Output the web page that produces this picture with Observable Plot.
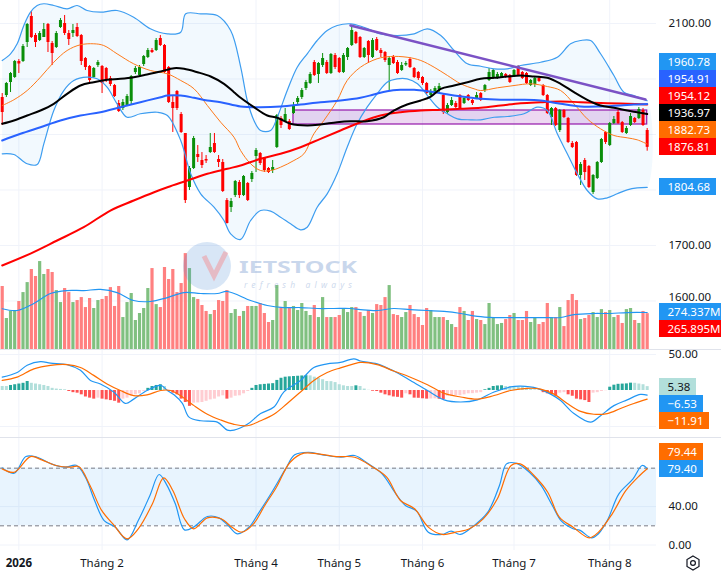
<!DOCTYPE html>
<html><head><meta charset="utf-8">
<script src="https://cdn.jsdelivr.net/npm/d3@7"></script>
<script src="https://cdn.jsdelivr.net/npm/@observablehq/plot@0.6"></script>
<style>
html,body{margin:0;padding:0;background:#fff;}
#wrap{position:relative;width:721px;height:576px;overflow:hidden;font-family:"Noto Sans",sans-serif;background:#fff;}
#wrap svg{position:absolute;left:0;}
.lbl{position:absolute;left:659px;height:17px;line-height:17px;padding:0 6px 0 8.5px;font-size:11.5px;color:#fff;white-space:nowrap;font-family:"Noto Sans",sans-serif;}
.sep{position:absolute;left:0;width:721px;height:1px;background:#e0e3eb;}
</style></head><body><div id="wrap"></div><script>
// ---------- DATA ----------
const open = [1966.6,1970.2,1993.7,2002.7,2031.5,2031.5,2065.7,2112.6,2078.3,2069.3,
2074.7,2098.2,2063.9,2056.7,2092.8,2100.0,2081.9,2081.9,2092.8,2078.3,
2036.9,2022.5,2002.7,2024.3,2022.5,2018.9,2000.9,1988.2,1955.8,1946.8,
1952.2,1959.4,2011.7,2006.3,2026.1,2038.7,2051.3,2051.3,2072.9,2060.3,
2020.7,1957.6,1977.4,1936.0,1901.8,1804.5,1838.7,1863.9,1853.1,1854.9,
1867.5,1883.8,1854.9,1849.5,1781.0,1768.4,1790.0,1813.5,1790.0,1811.7,
1818.9,1860.3,1865.7,1856.7,1838.7,1835.1,1876.5,1928.8,1923.4,1923.4,
1937.8,1957.6,1966.6,1982.8,1991.9,2029.7,2008.1,2024.3,2029.7,2009.9,
2042.3,2036.9,2011.7,2038.7,2060.3,2083.7,2074.7,2038.7,2067.5,2038.7,
2071.1,2051.3,2047.7,2024.3,2038.7,2029.7,2015.3,2025.2,2035.1,2018.9,
2011.7,2002.7,1991.9,1970.2,1975.6,1981.0,1970.2,1939.6,1952.2,1955.8,
1970.2,1955.8,1970.2,1961.2,1964.8,1973.8,1979.2,1997.3,2000.9,2000.9,
2002.7,2008.1,2006.3,2004.5,2022.5,2011.7,2009.9,1988.2,1990.1,2000.9,
1988.2,1970.2,1930.6,1946.8,1907.2,1943.2,1928.8,1883.8,1885.6,1826.1,
1853.1,1842.3,1795.5,1820.7,1849.5,1903.6,1880.1,1919.8,1939.6,1921.6,
1901.8,1916.2,1928.8,1928.8,1943.2,1907.2];
const close = [1939.6,1991.9,2009.9,2031.5,2027.0,2058.5,2098.2,2074.7,2065.7,2081.9,
2089.1,2065.7,2045.9,2081.9,2105.4,2081.9,2071.1,2087.3,2076.5,2031.5,
2020.7,1997.3,2018.9,2029.7,1991.9,1997.3,1990.1,1968.4,1941.4,1957.6,
1968.4,2004.5,2018.9,2020.7,2040.5,2051.3,2047.7,2069.3,2060.3,2011.7,
1957.6,1946.8,1946.8,1903.6,1781.0,1838.7,1892.8,1858.5,1844.1,1852.2,
1876.5,1867.5,1849.5,1797.3,1739.6,1779.2,1815.3,1790.0,1824.3,1781.0,
1829.7,1871.1,1847.7,1835.1,1831.5,1840.5,1934.2,1916.2,1936.0,1909.0,
1950.4,1964.8,1979.2,1993.7,2008.1,2006.3,2027.9,2036.9,2009.9,2044.1,
2020.7,2011.7,2042.3,2054.9,2087.3,2063.9,2038.7,2054.9,2042.3,2069.3,
2051.3,2045.9,2033.3,2036.9,2027.9,2009.9,2024.3,2027.9,2020.7,2002.7,
2000.9,1991.9,1973.8,1977.4,1982.8,1986.4,1939.6,1952.2,1961.2,1948.6,
1946.8,1964.8,1961.2,1955.8,1970.2,1961.2,1988.2,2011.7,2015.3,2008.1,
2009.9,2002.7,1993.7,2015.3,2006.3,2000.9,1991.9,1997.3,2000.9,1995.5,
1970.2,1937.8,1946.8,1916.2,1943.2,1930.6,1885.6,1876.5,1826.1,1845.9,
1831.5,1804.5,1826.1,1849.5,1891.0,1885.6,1919.8,1927.0,1919.8,1903.6,
1910.8,1932.4,1921.6,1945.0,1916.2,1876.81];
const high = [1973.8,1993.7,2011.7,2033.3,2035.1,2062.1,2100.0,2121.6,2081.9,2085.5,
2100.0,2100.0,2067.5,2085.5,2109.0,2114.4,2087.3,2098.2,2100.0,2080.1,
2038.7,2024.3,2020.7,2033.3,2024.3,2020.7,2004.5,1990.1,1961.2,1963.0,
1972.0,2006.3,2022.5,2024.3,2042.3,2054.9,2054.9,2072.9,2078.3,2062.1,
2022.5,1970.2,1979.2,1939.6,1901.8,1842.3,1896.4,1880.1,1867.5,1862.1,
1901.8,1901.8,1862.1,1854.9,1784.6,1784.6,1817.1,1817.1,1826.1,1813.5,
1833.3,1874.7,1867.5,1858.5,1840.5,1853.1,1936.0,1932.4,1946.8,1927.0,
1957.6,1968.4,1982.8,1997.3,2011.7,2033.3,2029.7,2045.9,2033.3,2045.9,
2045.9,2038.7,2045.9,2056.7,2092.8,2085.5,2076.5,2056.7,2069.3,2072.9,
2074.7,2054.9,2049.5,2040.5,2042.3,2033.3,2029.7,2031.5,2038.7,2020.7,
2013.5,2004.5,1993.7,1981.0,1986.4,1991.9,1972.0,1955.8,1966.6,1959.4,
1972.0,1968.4,1972.0,1963.0,1975.6,1975.6,1990.1,2018.9,2017.1,2011.7,
2011.7,2009.9,2008.1,2017.1,2024.3,2013.5,2011.7,1999.1,2002.7,2004.5,
1990.1,1972.0,1948.6,1948.6,1945.0,1945.0,1930.6,1887.4,1887.4,1849.5,
1856.7,1844.1,1827.9,1851.3,1892.8,1905.4,1921.6,1932.4,1943.2,1923.4,
1914.4,1937.8,1930.6,1948.6,1946.8,1910.8];
const low = [1916.2,1966.6,1975.6,2000.9,2009.9,2029.7,2056.7,2072.9,2056.7,2067.5,
2074.7,2047.7,2024.3,2054.9,2091.0,2078.3,2060.3,2074.7,2074.7,2024.3,
2015.3,1991.9,2000.9,2020.7,1973.8,1993.7,1986.4,1966.6,1939.6,1943.2,
1950.4,1954.0,2008.1,2004.5,2022.5,2036.9,2045.9,2049.5,2058.5,2009.9,
1955.8,1903.6,1943.2,1901.8,1775.6,1799.1,1836.9,1849.5,1838.7,1847.7,
1865.7,1865.7,1840.5,1795.5,1738.7,1759.4,1786.4,1784.6,1788.2,1779.2,
1813.5,1831.5,1844.1,1831.5,1829.7,1829.7,1874.7,1910.8,1921.6,1907.2,
1936.0,1952.2,1963.0,1979.2,1990.1,2004.5,1991.9,2020.7,2008.1,2008.1,
2017.1,2009.9,2009.9,2033.3,2058.5,2062.1,2036.9,2036.9,2027.9,2036.9,
2049.5,2038.7,2029.7,1979.2,2026.1,2008.1,2013.5,2022.5,2018.9,2000.9,
1997.3,1988.2,1972.0,1968.4,1973.8,1975.6,1936.0,1936.0,1950.4,1946.8,
1945.0,1954.0,1959.4,1952.2,1963.0,1959.4,1975.6,1995.5,1999.1,1999.1,
2000.9,2000.9,1991.9,2002.7,2004.5,1999.1,1990.1,1986.4,1984.6,1993.7,
1968.4,1936.0,1916.2,1914.4,1903.6,1928.8,1883.8,1874.7,1824.3,1808.1,
1817.1,1802.7,1791.9,1818.9,1847.7,1882.0,1878.3,1918.0,1918.0,1901.8,
1900.0,1914.4,1919.8,1927.0,1914.4,1869.9];
// volume, millions
const volume = [467,230,282,289,356,422,496,593,541,652,556,593,571,437,348,452,422,348,363,385,
311,378,304,363,371,393,459,319,467,237,348,415,215,267,304,452,600,333,311,608,
519,593,422,489,711,600,385,371,326,282,259,289,363,356,437,267,296,245,282,319,
319,319,341,267,200,215,474,311,356,311,319,289,341,282,252,326,237,385,237,237,
237,252,304,274,311,311,274,
245,289,267,333,326,385,474,259,252,237,274,326,259,237,178,304,289,237,237,237,
215,185,163,311,282,215,282,222,215,185,341,237,185,193,222,252,267,215,215,282,
200,237,185,200,341,237,237,311,170,363,408,363,222,230,252,274,237,296,274,289,
237,252,193,296,304,215,193,282,265.895];
const macdHist = [5.6,5.6,7,8,9,10,12.5,10,9,8,7,5.6,3,2,1.5,1,-1.4,-3,-3.7,-6,
-9,-10.6,-12,-10.6,-12,-13,-14,-15,-17.6,-12,-10.6,-8,-6,-4.6,-1.4,3,5.6,7,8,5.6,
-1.4,-3.7,-6,-12,-16.7,-22,-17.6,-17.2,-16.7,-15,-13,-12,-9,-7.4,-12,-10.6,-8,-7.4,-4.6,-1.4,
3,7,8,8.5,9,9.5,14,17,18.5,19,19.4,19.8,20.2,20.6,20.3,18.5,17,15,12.5,12.3,
11,8,6.5,5.6,5.5,6.5,5.6,
2,0.3,-1,-1.4,-3.7,-6,-7.4,-9,-9.5,-10.6,-4.6,-6,-10.6,-10.8,-11.5,-12,-11.8,-11.6,-12.2,-12.5,
-8,-7.9,-7.4,-7.2,-6,-4.6,-4.4,-3.7,-3,1,3,5.6,6.3,6.6,5.6,5.5,5.4,4.6,4.5,3,
2,1,0.8,-3,-4.6,-6,-8,-3.7,-3,-6,-8,-12,-13,-14,-16.7,-3.7,-3,-1.4,-0.3,4.6,
7.4,8.6,8.9,9.2,10.2,10,9,8,5.38];
// indicator lines read at [bar index, value]
const bbUpper = [[0,2033.3],[2.0,2045.4],[3.6,2063.4],[5.2,2096.4],[6.8,2120.3],[8.4,2132.4],[10.0,2135.5],[12.4,2132.4],[15.6,2126.4],[18.0,2132.4],[20.4,2123.4],[23.6,2120.3],[27.6,2123.4],[31.6,2111.3],[35.6,2090.4],[39.7,2081.4],[42.9,2084.3],[44.1,2117.4],[47.7,2117.4],[51.7,2114.4],[54.9,2087.3],[57.3,2022.0],[58.9,1961.2],[60.5,1925.2],[62.1,1907.2],[64.5,1907.2],[66.1,1931.1],[68.5,1979.2],[70.9,2021.2],[73.3,2045.4],[75.7,2069.3],[78.1,2087.3],[80.5,2096.4],[83.7,2099.4],[86.9,2093.3],[90.9,2081.4],[94.9,2078.3],[99.0,2081.4],[102.2,2090.4],[105.4,2078.3],[108.6,2051.3],[111.8,2027.3],[115.0,2023.0],[118.2,2018.3],[121.4,2018.3],[124.6,2024.3],[129.4,2030.2],[133.4,2039.2],[136.6,2063.4],[139.0,2069.3],[141.4,2069.3],[143.8,2045.4],[147.0,2006.3],[149.4,1976.2],[151.8,1970.2],[155,1960.78]];
const bbLower = [[0,1865.2],[2.8,1863.9],[6.0,1847.2],[8.4,1845.9],[10.0,1883.2],[12.4,1943.2],[14.8,1979.2],[17.2,1997.3],[20.4,2003.2],[22.8,2000.3],[25.2,1985.2],[27.6,1955.3],[30.0,1931.1],[33.2,1937.3],[37.3,1940.1],[39.7,1934.2],[42.9,1889.1],[45.3,1829.2],[47.7,1793.1],[50.9,1769.0],[53.3,1745.0],[54.9,1721.0],[57.3,1711.0],[59.7,1745.0],[62.1,1763.0],[64.5,1761.8],[66.9,1751.0],[69.3,1739.1],[71.7,1728.2],[73.3,1732.9],[75.7,1769.0],[78.1,1793.1],[80.5,1829.2],[82.9,1877.1],[85.3,1919.2],[87.7,1949.2],[90.1,1973.3],[92.5,1994.2],[94.9,2000.3],[97.3,2000.3],[99.8,1991.3],[102.2,1970.2],[104.6,1949.2],[107.0,1937.3],[109.4,1928.2],[112.6,1926.4],[115.0,1926.4],[118.2,1931.1],[121.4,1932.4],[125.4,1937.3],[128.6,1949.2],[131.0,1943.2],[133.4,1901.2],[135.8,1865.2],[138.2,1829.2],[140.6,1799.1],[143.0,1784.1],[145.4,1785.9],[147.8,1793.1],[150.2,1800.3],[152.6,1803.9],[155,1804.68]];
const bbMid = [[0,1952.2],[2.8,1962.5],[6.0,1979.2],[9.2,2003.2],[12.4,2030.2],[15.6,2051.3],[18.8,2061.6],[22.0,2063.4],[24.4,2060.3],[27.6,2045.4],[31.6,2027.3],[35.6,2015.3],[39.7,2009.3],[42.9,1997.3],[46.1,1982.3],[49.3,1952.2],[52.5,1922.1],[55.7,1895.1],[57.3,1871.0],[59.7,1847.2],[62.1,1835.1],[64.5,1835.1],[66.9,1841.1],[70.1,1853.1],[72.5,1865.2],[74.9,1901.2],[77.3,1925.2],[80.5,1961.2],[82.9,1997.3],[86.1,2021.2],[90.1,2036.4],[93.3,2040.5],[97.3,2039.2],[100.6,2033.3],[103.8,2021.2],[107.0,2006.3],[110.2,1991.3],[113.4,1982.3],[115.0,1979.2],[119.0,1984.1],[123.0,1988.2],[127.0,1991.3],[131.0,1986.4],[134.2,1979.2],[137.4,1955.3],[140.6,1928.2],[143.8,1910.2],[147.0,1898.2],[150.2,1894.0],[152.6,1890.4],[155,1882.73]];
const maBlack = [[0,1919.2],[2.8,1925.2],[6.0,1934.2],[9.2,1943.2],[12.4,1955.3],[15.6,1973.3],[18.8,1988.2],[22.0,1994.2],[25.2,1998.5],[28.4,2000.3],[31.6,2003.2],[34.8,2008.1],[38.1,2013.5],[41.3,2019.4],[43.7,2018.3],[46.9,2012.2],[50.1,2004.5],[53.3,1991.3],[55.7,1976.2],[57.3,1966.1],[60.5,1949.2],[63.7,1934.2],[66.1,1930.1],[69.3,1919.2],[73.3,1916.2],[76.5,1918.0],[80.5,1922.1],[83.7,1923.9],[87.7,1923.9],[91.7,1931.1],[94.1,1943.2],[97.3,1954.0],[100.6,1961.2],[103.0,1968.4],[105.4,1982.3],[108.6,1988.2],[111.8,1994.2],[115.0,2000.3],[118.2,2002.1],[121.4,2004.5],[124.6,2006.3],[127.8,2004.5],[131.0,2002.1],[134.2,1991.3],[137.4,1976.2],[140.6,1962.5],[143.8,1952.2],[147.0,1948.1],[150.2,1943.2],[152.6,1940.1],[155,1936.97]];
const maBlue = [[0,1889.1],[4.4,1901.2],[9.2,1913.1],[14.0,1925.2],[18.8,1934.2],[23.6,1940.1],[28.4,1949.2],[33.2,1958.2],[38.1,1967.2],[39.7,1970.2],[42.9,1970.2],[46.1,1966.1],[49.3,1961.2],[52.5,1958.2],[57.3,1950.4],[62.1,1949.2],[66.9,1950.4],[71.7,1954.0],[76.5,1958.2],[81.3,1961.2],[86.1,1966.1],[89.3,1972.0],[92.5,1978.0],[95.7,1980.5],[99.0,1980.5],[102.2,1978.0],[105.4,1974.4],[108.6,1970.2],[111.8,1967.2],[115.0,1964.3],[119.8,1962.5],[124.6,1962.5],[129.4,1961.2],[134.2,1955.3],[139.0,1950.4],[143.8,1950.4],[148.6,1952.2],[151.8,1954.0],[155,1954.91]];
const maRed = [[0,1664.0],[6.8,1685.5],[13.2,1709.0],[19.6,1732.9],[26.0,1763.0],[31.6,1781.0],[36.5,1796.0],[39.7,1805.0],[44.5,1817.1],[49.3,1829.2],[54.1,1838.2],[57.3,1844.1],[62.1,1856.2],[66.9,1865.2],[71.7,1877.1],[76.5,1892.2],[81.3,1907.2],[86.1,1922.1],[90.9,1934.2],[95.7,1940.1],[100.6,1943.2],[105.4,1944.5],[110.2,1946.3],[115.0,1948.1],[119.8,1952.2],[124.6,1956.4],[129.4,1958.2],[134.2,1959.5],[139.0,1958.2],[145.4,1956.4],[150.2,1955.3],[155,1954.12]];
const trendLine = [[83.7,2096.4],[154.6,1963.0]];
const zone = {from: 70, to: 155, top: 1943.2, bottom: 1918.0};
const volMA = [[0,302],[3.6,289],[7.6,341],[11.6,415],[15.6,437],[19.6,437],[23.6,445],[27.6,422],[31.6,363],[35.6,356],[39.7,385],[43.7,422],[47.7,415],[51.7,415],[54.1,430],[59.7,363],[63.7,326],[67.7,311],[71.7,311],[75.7,304],[79.7,304],[83.7,304],[86.1,296],[90.1,289],[94.1,304],[98.1,296],[102.2,289],[106.2,282],[110.2,267],[114.2,245],[118.2,237],[122.2,237],[126.2,237],[130.2,237],[134.2,237],[137.4,259],[142.2,267],[146.2,267],[150.2,274],[155,274.337]];
const macdLine = [[0,18.5],[3.6,25],[6.0,35],[9.2,40],[11.6,38],[15.6,36],[18.8,28],[21.2,14],[23.6,9],[26.8,-2],[29.6,-18],[31.6,-12],[34.8,0],[38.1,7],[39.7,0],[41.3,-6],[43.3,-18],[44.9,-37],[47.7,-42],[51.7,-44],[54.1,-55],[55.7,-55],[58.9,-47],[62.1,-32],[65.3,-23],[67.7,-2],[71.7,14],[74.9,32],[78.1,37],[81.3,39],[84.5,44],[86.1,41],[90.1,37],[94.1,27],[98.1,14],[102.2,0],[106.2,-13],[110.2,-16],[114.2,-13],[118.2,-2],[122.2,5],[124.6,6],[128.6,3],[131.8,-5],[134.2,-14],[137.4,-32],[141.4,-44],[143.8,-35],[147.0,-21],[150.2,-13],[153.4,-5.5],[155,-6.53]];
const macdSignal = [[0,14],[3.6,18.5],[7.6,30],[11.6,35],[15.6,36],[18.8,32],[22.0,21],[25.2,9],[28.4,0],[31.6,-7],[34.8,-6],[38.1,0],[40.5,0],[43.3,-9],[46.1,-21],[49.3,-33],[52.5,-41],[55.7,-47],[58.9,-49],[62.1,-42],[65.3,-33],[68.5,-18],[71.7,-2],[74.9,14],[78.1,25],[81.3,31.5],[84.5,37],[86.1,39],[90.1,36],[94.1,27],[98.1,18.5],[102.2,8],[106.2,-4],[110.2,-9],[114.2,-12],[118.2,-7],[122.2,0],[126.2,3],[129.4,2],[132.6,-5],[135.8,-18],[139.0,-29],[142.2,-33],[145.4,-32],[148.6,-25],[151.8,-18],[155,-11.91]];
const stochK = [[0,80.3],[2.9,74.8],[5.7,92.1],[8.4,91.4],[11.8,84.5],[15.1,81],[17.8,83],[20.0,70.6],[22.2,46.4],[24.5,25.5],[27.2,18.6],[30.0,5.4],[32.7,25.5],[35.5,51.6],[37.7,73.4],[39.4,63.7],[41.6,42.9],[43.8,15.8],[46.0,18.6],[49.3,29.7],[52.1,28.3],[54.3,20.3],[56.5,11.7],[59.3,18.6],[61.5,32.5],[64.8,55],[68.1,79.3],[70.3,93.9],[73.6,96.6],[77.0,93.9],[81.4,91.4],[84.7,93.2],[88.0,84.5],[91.3,74.1],[94.6,53.3],[96.9,41.2],[99.6,35.3],[102.4,13.4],[105.7,11],[107.9,14.4],[110.1,11],[113.4,20.3],[116.7,34.2],[119.5,62],[121.2,84.5],[123.4,85.2],[126.7,75.8],[129.5,62],[132.2,41.2],[134.4,24.8],[137.2,16.9],[138.9,15.2],[141.6,7.5],[143.3,11.7],[145.5,26.3],[148.2,53.3],[151.6,68.9],[153.8,82.8],[155,79.40]];
const stochD = [[0,79.3],[2.9,75.8],[6.8,92.1],[9.5,88.7],[12.9,82.8],[16.2,81],[18.4,81.7],[21.1,62],[23.9,36],[26.7,21.4],[30.0,6.5],[32.7,16.9],[36.1,42.9],[38.8,69.9],[41.0,56.8],[43.8,27.3],[46.0,16.9],[49.3,28.3],[52.6,27.3],[55.4,17.9],[57.6,13.4],[60.4,22.1],[63.1,41.2],[65.9,60.2],[69.2,86.2],[72.5,95.6],[75.9,94.9],[80.3,92.1],[84.7,91.4],[89.1,81],[92.4,70.6],[95.7,46.4],[99.1,37.8],[102.4,18.6],[105.7,11],[109.0,13.4],[112.3,16.9],[115.6,27.3],[119.0,48.1],[122.3,82.8],[124.5,84.5],[127.8,72.4],[131.1,55],[133.9,29],[137.2,18.6],[141.1,7.5],[143.3,13.4],[146.6,32.5],[149.9,56.8],[153.2,72.4],[155,79.44]];
const priceTicks = [1600,1700,1800,1900,2000,2100];
const macdTicks = [-50,0,50];
const stochTicks = [0,40,80];
const monthIdx = [4,24,61,81,101,123,146];
const monthLabels = ["2026","Tháng 2","Tháng 4","Tháng 5","Tháng 6","Tháng 7","Tháng 8"];

// ---------- LAYOUT ----------
const W = 721, XR = 656;
const xDomain = [-0.41, 157.24];
const G = "#0a8f0a", R = "#ff0000";
const GRID = "#f0f3fa";
const style = {background:"transparent", fontFamily:'"Noto Sans", sans-serif', fontSize:"11.5px", color:"#131722", overflow:"visible"};
const pts = arr => arr.map(([i, v]) => ({i, v}));
const bars = d3.range(open.length).map(i => ({i, o: open[i], h: high[i], l: low[i], c: close[i], up: close[i] >= open[i], vol: volume[i], hist: macdHist[i]}));
const line = (arr, stroke, w) => Plot.line(pts(arr), {x: "i", y: "v", stroke, strokeWidth: w, curve: "catmull-rom"});
const f2 = d => d.toFixed(2);
const mfmt = d => d.toFixed(2).replace("-", "\u2212");
const last = a => a[a.length - 1][1];
const n = bars.length - 1;
const wrap = document.getElementById("wrap");
const LH = 17;

function pane(h, domain) { return {h, domain, sy: Plot.scale({y: {domain, range: [h, 0]}})}; }
function stack(p, top, items, anchor) {
  items.sort((a, b) => b.v - a.v);
  const py = items.map(d => p.sy.apply(d.v) + top);
  const pos = py.slice();
  const a = items.indexOf(anchor);
  for (let k = a - 1; k >= 0; k--) pos[k] = Math.min(py[k], pos[k + 1] - LH);
  for (let k = a + 1; k < items.length; k++) pos[k] = Math.max(py[k], pos[k - 1] + LH);
  items.forEach((d, k) => d.pos = pos[k]);
  return items;
}
const visibleTicks = (p, top, ticks, items) => ticks.filter(t => items.every(d => Math.abs(p.sy.apply(t) + top - d.pos) >= 13));
const yAxis = (ticks, fmt, dy = 0) => Plot.axisY({anchor: "right", ticks, tickFormat: fmt, tickSize: 0, tickPadding: 12, label: null, fill: "#131722", dy});
const base = (p, extra = {}) => ({width: W, height: p.h + (extra.marginBottom || 0), marginLeft: 0, marginRight: W - XR, marginTop: 0, marginBottom: 0,
  x: {type: "linear", domain: xDomain, axis: null}, y: {domain: p.domain, range: [p.h, 0], axis: p.noAxis ? null : undefined}, style, ...extra});
function place(svg, top) { svg.style.top = top + "px"; wrap.appendChild(svg); return svg; }

const P = pane(350, [1510.8, 2141.4]), pTop = 0;
const V = pane(109, [0, 808]), vTop = 240; V.noAxis = true;
const M = pane(88, [-66.67, 55.56]), mTop = 350;
const S = pane(112, [-5.7, 110.9]), sTop = 438;

// last-value labels
const pClose = {v: close[n], text: f2(close[n]), bg: R};
const priceLabels = stack(P, pTop, [
  {v: last(bbUpper), text: f2(last(bbUpper)), bg: "#2196f3"},
  {v: last(maBlue), text: f2(last(maBlue)), bg: "#2962ff"},
  {v: last(maRed), text: f2(last(maRed)), bg: "#ff0000"},
  {v: last(maBlack), text: f2(last(maBlack)), bg: "#000000"},
  {v: last(bbMid), text: f2(last(bbMid)), bg: "#ff6d00"},
  pClose,
  {v: last(bbLower), text: f2(last(bbLower)), bg: "#2196f3"}
], pClose);
const vMA = {v: last(volMA), text: last(volMA).toFixed(3) + "M", bg: "#2196f3"};
const volLabels = stack(V, vTop, [vMA, {v: volume[n], text: volume[n].toFixed(3) + "M", bg: bars[n].up ? G : R}], vMA);
const hLab = {v: macdHist[n], text: mfmt(macdHist[n]), bg: "#b2dfdb", fg: "#131722"};
const macdLabels = stack(M, mTop, [hLab, {v: last(macdLine), text: mfmt(last(macdLine)), bg: "#2196f3"}, {v: last(macdSignal), text: mfmt(last(macdSignal)), bg: "#ff6d00"}], hLab);
const kLab = {v: last(stochK), text: f2(last(stochK)), bg: "#2196f3"};
const stochLabels = stack(S, sTop, [kLab, {v: last(stochD), text: f2(last(stochD)), bg: "#ff6d00"}], kLab);

// price ticks: hidden under price labels; nudged up when just above the volume labels
const pVisible = visibleTicks(P, pTop, priceTicks, priceLabels);
const nearVol = t => volLabels.some(d => Math.abs(P.sy.apply(t) + pTop - d.pos) < 15);
place(Plot.plot(base(P, {
  marks: [
    Plot.ruleX(monthIdx, {stroke: GRID}),
    Plot.ruleY(priceTicks, {stroke: GRID}),
    Plot.line([...pts(bbUpper), ...pts(bbLower).reverse()], {x: "i", y: "v", fill: "#2196f3", fillOpacity: 0.06, stroke: "none", curve: "catmull-rom"}),
    Plot.rect([zone], {x1: "from", x2: "to", y1: "bottom", y2: "top", fill: "#9c27b0", fillOpacity: 0.18, stroke: "#9c27b0", strokeWidth: 1.3}),
    Plot.ruleX(bars, {x: "i", y1: "l", y2: "h", stroke: d => d.up ? G : R, strokeWidth: 1}),
    Plot.ruleX(bars, {x: "i", y1: "o", y2: "c", stroke: d => d.up ? G : R, strokeWidth: 3}),
    line(bbUpper, "#3d9df0", 1.2),
    line(bbLower, "#3d9df0", 1.2),
    line(bbMid, "#ff7a1a", 1),
    line(maRed, "#ff0000", 2),
    line(maBlue, "#2962ff", 2),
    line(maBlack, "#000000", 2),
    Plot.line(pts(trendLine), {x: "i", y: "v", stroke: "#7b52c5", strokeWidth: 2.5}),
    yAxis(pVisible.filter(t => !nearVol(t)), f2),
    yAxis(pVisible.filter(nearVol), f2, -4)
  ]
})), pTop);

// volume overlay
place(Plot.plot(base(V, {
  marks: [
    Plot.ruleX(bars, {x: "i", y1: 0, y2: "vol", stroke: d => d.up ? "#80c080" : "#ff8080", strokeWidth: 3.2}),
    line(volMA, "#2196f3", 1.2)
  ]
})), vTop);

// MACD pane
const histColor = bars.map((d, k) => {
  const p = k ? bars[k - 1].hist : d.hist;
  return d.hist >= 0 ? (d.hist > p ? "#26a69a" : "#b2dfdb") : (d.hist < p ? "#ff5252" : "#ffcdd2");
});
place(Plot.plot(base(M, {
  marks: [
    Plot.ruleX(monthIdx, {stroke: GRID}),
    Plot.ruleY([-50, 50], {stroke: GRID}),
    Plot.ruleX(bars, {x: "i", y1: 0, y2: "hist", stroke: (d, k) => histColor[k], strokeWidth: 3}),
    line(macdLine, "#2196f3", 1.2),
    line(macdSignal, "#ff6d00", 1.2),
    yAxis(visibleTicks(M, mTop, macdTicks, macdLabels), mfmt)
  ]
})), mTop);

// Stochastic pane + time axis
const months = monthIdx.map((i, k) => ({i, label: monthLabels[k]}));
place(Plot.plot(base(S, {
  marginBottom: 26,
  marks: [
    Plot.ruleX(monthIdx, {stroke: GRID}),
    Plot.ruleY([0, 40], {stroke: GRID}),
    Plot.rect([{a: 20, b: 80}], {x1: xDomain[0], x2: xDomain[1], y1: "a", y2: "b", fill: "#2196f3", fillOpacity: 0.1}),
    Plot.ruleY([20, 80], {stroke: "#787b86", strokeDasharray: "4,3", strokeWidth: 1}),
    line(stochK, "#2196f3", 1.2),
    line(stochD, "#ff6d00", 1.2),
    yAxis(visibleTicks(S, sTop, stochTicks, stochLabels), f2),
    Plot.text(months.slice(0, 1), {x: "i", y: S.domain[0], text: "label", dy: 13, lineAnchor: "middle", fontWeight: "bold", fill: "#131722", fontSize: 11.5}),
    Plot.text(months.slice(1), {x: "i", y: S.domain[0], text: "label", dy: 13, lineAnchor: "middle", fill: "#131722", fontSize: 11.5})
  ]
})), sTop);

// separators
[349, 437].forEach(t => { const s = document.createElement("div"); s.className = "sep"; s.style.top = t + "px"; wrap.appendChild(s); });

// watermark + settings glyph
const wm = document.createElementNS("http://www.w3.org/2000/svg", "svg");
wm.setAttribute("width", 721); wm.setAttribute("height", 576);
wm.style.top = "0px"; wm.style.pointerEvents = "none";
wm.innerHTML = `<circle cx="207" cy="266" r="24" fill="#4f8fd6" opacity="0.22"/>
<path d="M204 256 L214 276 L226 252" fill="none" stroke="#ff6b6b" stroke-width="5" opacity="0.35"/>
<text x="239" y="273" font-family="Noto Sans" font-weight="bold" font-size="16" textLength="118" lengthAdjust="spacingAndGlyphs" fill="#5b86c5" opacity="0.32">IETSTOCK</text>
<text x="244" y="288" font-family="Noto Sans" font-style="italic" font-size="8.5" textLength="108" lengthAdjust="spacing" fill="#5b86c5" opacity="0.3">refresh always</text>
<g transform="translate(693,563)" fill="none" stroke="#131722" stroke-width="1.2"><polygon points="0,-7 6,-3.5 6,3.5 0,7 -6,3.5 -6,-3.5"/><circle r="2.4"/></g>`;
wrap.appendChild(wm);

// label boxes
[...priceLabels, ...volLabels, ...macdLabels, ...stochLabels].forEach(d => {
  const el = document.createElement("div");
  el.className = "lbl";
  el.textContent = d.text;
  el.style.top = (d.pos - LH / 2) + "px";
  el.style.background = d.bg;
  el.style.color = d.fg || "#fff";
  wrap.appendChild(el);
});
</script></body></html>
